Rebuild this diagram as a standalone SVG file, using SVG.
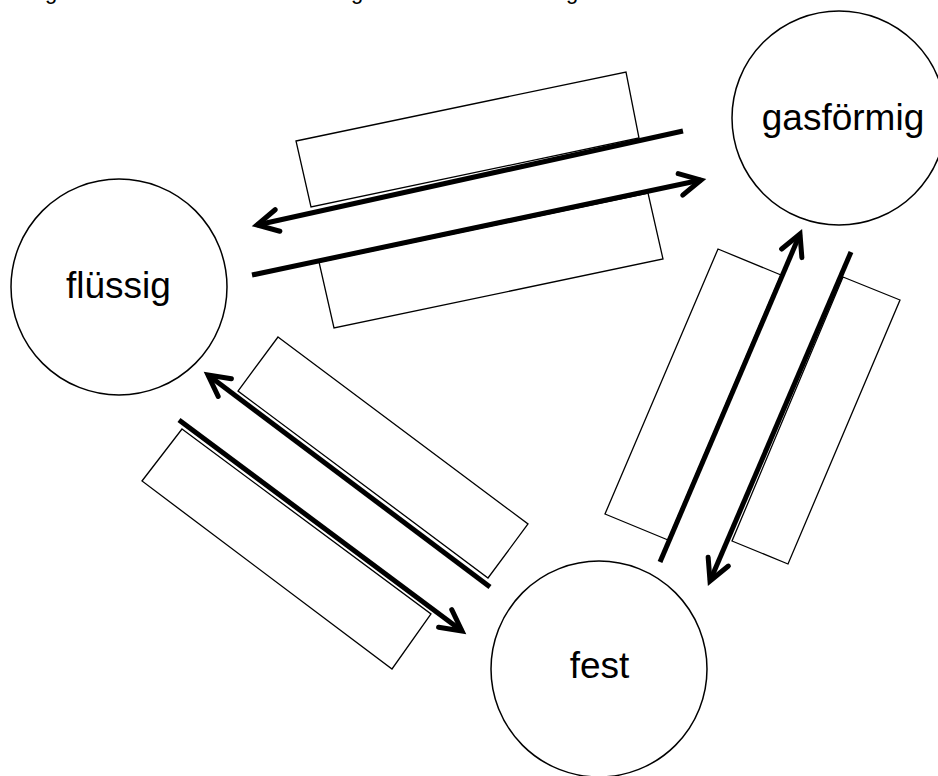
<svg xmlns="http://www.w3.org/2000/svg" width="938" height="776" viewBox="0 0 938 776">
<style>
.node{fill:#fff;stroke:#000;stroke-width:1.5}
.lbl{font-family:"Liberation Sans",Arial,sans-serif;font-size:37px;fill:#000;text-anchor:middle}
.box{fill:#fff;stroke:#000;stroke-width:1.3}
.conn{fill:none;stroke:#000;stroke-width:5;stroke-linecap:butt;marker-end:url(#head)}
</style>
<defs>
<marker id="head" viewBox="-30 -20 40 40" markerWidth="40" markerHeight="40" refX="0" refY="0" orient="auto" markerUnits="userSpaceOnUse" overflow="visible">
<path d="M -21 -11 L 0 0 L -21 11" fill="none" stroke="#000" stroke-width="5" stroke-linecap="round" stroke-linejoin="miter"/>
</marker>
</defs>
<rect width="938" height="776" fill="#fff"/>
<g id="top-fragments">
<text class="lbl" style="font-size:22px" x="51" y="-1">g</text>
<text class="lbl" style="font-size:22px" x="357" y="-1">g</text>
<text class="lbl" style="font-size:22px" x="572" y="-1">g</text>
</g>
<g id="node-fluessig">
<circle class="node" cx="119" cy="287" r="108"/>
<text class="lbl" x="118.5" y="297.5">flüssig</text>
</g>
<g id="node-gasfoermig">
<circle class="node" cx="839" cy="118" r="107"/>
<text class="lbl" x="843" y="130">gasförmig</text>
</g>
<g id="node-fest">
<circle class="node" cx="599" cy="669" r="108"/>
<text class="lbl" x="599.5" y="677.5">fest</text>
</g>
<g id="boxes">
<polygon class="box" points="296,141 626,72 639,138 311,207"/>
<polygon class="box" points="319,262 648,193 663,259 334,328"/>
<polygon class="box" points="278,337 528,524 488,578 238,391"/>
<polygon class="box" points="182,429 431,614 392,669 142,481"/>
<polygon class="box" points="718,249 781,275 668,540 605,514"/>
<polygon class="box" points="843,277 900,300 788,564 732,541"/>
</g>
<g id="connectors">
<path class="conn" d="M 683 131 L 257 225"/>
<path class="conn" d="M 252 275 L 701 180"/>
<path class="conn" d="M 490 587 L 208 375"/>
<path class="conn" d="M 179 420 L 462 631"/>
<path class="conn" d="M 660 562 L 800 234"/>
<path class="conn" d="M 851 252 L 710 581"/>
</g>
</svg>
